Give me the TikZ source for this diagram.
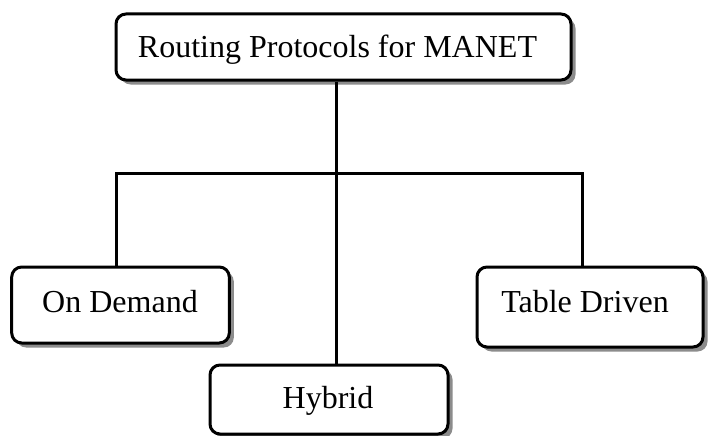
\documentclass[tikz,border=0pt]{standalone}
\usepackage{fontspec}
\setmainfont{Liberation Serif}
\usetikzlibrary{shadows}

\tikzset{
  box/.style={draw=black, fill=white, line width=3pt, rounded corners=10pt,
    rectangle, inner sep=0pt,
    drop shadow={shadow xshift=4.5pt, shadow yshift=-4.5pt, opacity=1, fill=black!45}},
  label text/.style={anchor=base, inner sep=0pt, font=\fontsize{32}{38}\selectfont},
  conn/.style={draw=black, line width=3pt, line join=miter}
}

\begin{document}
\begin{tikzpicture}[x=1pt, y=-1pt]
  \useasboundingbox (0,0) rectangle (712,436);

  % boxes
  \node[box, minimum width=455pt, minimum height=66pt] (top) at (343.5,47) {};
  \node[box, minimum width=217.6pt, minimum height=76pt] (ondemand) at (120.5,305) {};
  \node[box, minimum width=226pt, minimum height=80pt] (table) at (590,307) {};
  \node[box, minimum width=238pt, minimum height=69pt] (hybrid) at (329,399.5) {};

  % labels
  \node[label text] (toptext) at (337.5,58) {Routing Protocols for MANET};
  \node[label text] (odtext) at (120,312) {On Demand};
  \node[label text] (tdtext) at (585,312) {Table Driven};
  \node[label text] (hytext) at (328,408) {Hybrid};

  % tree connectors
  \coordinate (jc) at (336,173);
  \coordinate (jl) at (116,173);
  \coordinate (jr) at (582,173);
  \draw[conn] (jc |- top.south) -- (jc |- hybrid.north);
  \draw[conn] (jl |- ondemand.north) -- (jl) -- (jr) -- (jr |- table.north);
\end{tikzpicture}
\end{document}
